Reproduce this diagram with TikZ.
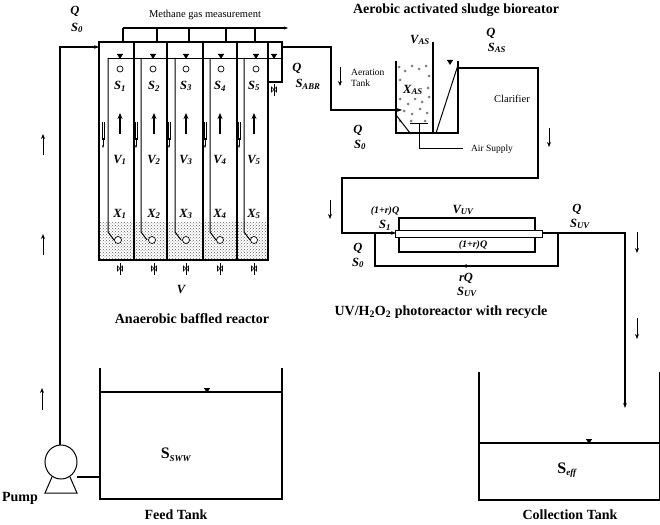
\documentclass[tikz,border=0pt]{standalone}
\usepackage{fontspec}
\setmainfont{Liberation Serif}
\usetikzlibrary{arrows.meta,patterns}
\begin{document}
\begin{tikzpicture}[x=1pt,y=-1pt,
  pipe/.style={line width=1.3pt},
  wall/.style={line width=1.6pt},
  flow/.style={line width=0.9pt,-{Stealth[length=5pt,width=4pt]}},
  lab/.style={font=\bfseries\itshape\fontsize{12.5}{13}\selectfont,inner sep=0pt},
  sm/.style={font=\fontsize{9.5}{11}\selectfont,inner sep=0pt},
  ttl/.style={font=\bfseries\fontsize{14}{16}\selectfont,inner sep=0pt},
  lvl/.pic={\fill (-3,-4)--(3,-4)--(0,1)--cycle; \draw[line width=0.8pt] (-3,-4)--(3,-4);},
  valve/.pic={\draw[line width=0.8pt] (0,0)--(0,12); \draw[line width=0.6pt] (-2.5,3)--(2.5,8)--(2.5,3)--(-2.5,8)--cycle;}]
\useasboundingbox (0,0) rectangle (660,524);
% ---------- ABR ----------
\fill[pattern=crosshatch dots,pattern color=gray!80!black] (99,222) rectangle (268,260);
\foreach \x in {118,152,186,220,254}{\draw[line width=0.7pt,fill=white] (\x,240) circle (3.5);}
\draw[wall] (99,42) rectangle (268,260);
\foreach \x in {134,167,203,237}{\draw[wall] (\x,42)--(\x,260);}
\foreach \x in {108,141,175,210,244}{\draw[line width=1pt] (\x,58)--(\x,232)--(\x+6,240);}
\draw[line width=0.9pt] (108,58)--(282,58);
\draw[wall] (268,42) rectangle (282,82);
\foreach \x in {120,153,186,221,256}{\pic at (\x,58) {lvl}; \draw[line width=0.7pt] (\x,69) circle (3);}
\pic at (274,58) {lvl};
\foreach \x in {103,136,169,205,239}{\draw[line width=0.6pt] (\x-1,122)--(\x-1,140) (\x+1,122)--(\x+1,140); \draw[line width=0.6pt,-{Stealth[length=3pt]}] (\x,138)--(\x,148);}
\foreach \x in {120,154,186,220,254}{\pic at (\x,263) {valve}; \draw[line width=1.3pt,-{Stealth[length=6pt,width=5pt]}] (\x,134)--(\x,113);}
\pic at (274,84) {valve};
\foreach \i/\x in {1/120,2/154,3/186,4/220,5/254}{
  \node[lab] at (\x,86) {S\textsubscript{\i}};
  \node[lab] at (\x,160) {V\textsubscript{\i}};
  \node[lab] at (\x,214) {X\textsubscript{\i}};}
\node[lab] at (181,289) {V};
\node[ttl] at (192,319) {Anaerobic baffled reactor};
% methane
\draw[pipe,-{Stealth[length=4pt]}] (123,28)--(288,28);
\foreach \x in {123,157,189,226,255}{\draw[pipe] (\x,28)--(\x,42);}
\node[sm,font=\fontsize{10.5}{12}\selectfont] at (205,15) {Methane gas measurement};
% feed line
\draw[pipe,-{Stealth[length=5pt]}] (60,445)--(60,47)--(99,47);
\node[lab] at (75,11) {Q};
\node[lab] at (77,28) {S\textsubscript{0}};
\foreach \y in {155,255}{\draw[flow] (43,\y)--(43,134+\y-155);}
\draw[flow] (42,410)--(42,388);
% pump & feed tank
\draw[line width=1pt] (61,462) ellipse (16 and 17);
\draw[line width=1pt] (52,477)--(45,493)--(77,493)--(70,477);
\draw[pipe] (77,477)--(100,477);
\node[ttl] at (20,498) {Pump};
\draw[wall] (100,368)--(100,499)--(282,499)--(282,368);
\draw[pipe] (100,392)--(282,392);
\pic at (207,392) {lvl};
\node[font=\bfseries\fontsize{16}{18}\selectfont] at (176,455) {S\textsubscript{\fontsize{9}{10}\selectfont\itshape SWW}};
\node[ttl] at (176,515) {Feed Tank};
% ---------- ABR -> AS ----------
\draw[pipe,-{Stealth[length=5pt]}] (282,47)--(331,47)--(331,110)--(402,110);
\node[lab] at (297,68) {Q};
\node[lab] at (308,84) {S\textsubscript{ABR}};
\node[lab] at (358,130) {Q};
\node[lab] at (360,145) {S\textsubscript{0}};
\draw[flow] (340,67)--(340,86);
\node[sm,align=left,anchor=west] at (351,78) {Aeration\\Tank};
% AS tank
\foreach \x/\y in {399/67,405/71,412/66,419/69,426/66,429/76,400/80,428/88,400/99,408/104,415/99,422/102,429/97,404/111,412/114,420/109,427/113,400/121,411/121,425/121}{\fill[gray] (\x,\y) circle (1.5);}
\draw[wall] (396,61)--(396,133)--(458,133)--(458,61);
\draw[wall] (433,42)--(433,133);
\draw[line width=1pt] (436,133)--(458,65);
\draw[line width=1pt] (396,115)--(410,133);
\draw[line width=1pt] (410,123)--(428,123);
\draw[line width=0.8pt] (419,123)--(419,148)--(463,148);
\node[sm] at (492,149) {Air Supply};
\node[sm,font=\fontsize{10.5}{12}\selectfont] at (512,99) {Clarifier};
\pic at (450,64) {lvl};
\node[lab] at (413,90) {X\textsubscript{AS}};
\node[lab] at (420,40) {V\textsubscript{AS}};
\node[lab] at (491,33) {Q};
\node[lab] at (497,48) {S\textsubscript{AS}};
\node[ttl] at (456,10) {Aerobic activated sludge bioreator};
% AS -> UV
\draw[pipe,-{Stealth[length=5pt]}] (458,68)--(538,68)--(538,178)--(342,178)--(342,233)--(396,233);
\draw[flow] (549,128)--(549,147);
\draw[flow] (330,200)--(330,219);
% UV
\draw[wall] (399,218) rectangle (535,252);
\draw[line width=1pt,fill=white] (395,230) rectangle (542,237);
\draw[pipe,-{Stealth[length=5pt]}] (542,233)--(558,233)--(558,266)--(462,266);
\draw[pipe] (465,266)--(375,266)--(375,233);
\draw[pipe,-{Stealth[length=5pt]}] (558,233)--(625,233)--(625,408);
\draw[flow] (637,232)--(637,253);
\draw[flow] (637,318)--(637,339);
\node[lab,font=\bfseries\itshape\fontsize{10}{11}\selectfont] at (385,211) {(1+r)Q};
\node[lab] at (385,225) {S\textsubscript{1}};
\node[lab] at (463,210) {V\textsubscript{UV}};
\node[lab,font=\bfseries\itshape\fontsize{10}{11}\selectfont] at (473,245) {(1+r)Q};
\node[lab] at (577,209) {Q};
\node[lab] at (580,224) {S\textsubscript{UV}};
\node[lab] at (358,248) {Q};
\node[lab] at (358,263) {S\textsubscript{0}};
\node[lab] at (466,278) {rQ};
\node[lab] at (467,292) {S\textsubscript{UV}};
\node[ttl] at (441,312) {UV/H\textsubscript{2}O\textsubscript{2} photoreactor with recycle};
% collection tank
\draw[wall] (479,372)--(479,500)--(660,500)--(660,372);
\draw[pipe] (479,443)--(660,443);
\pic at (589,443) {lvl};
\node[font=\bfseries\fontsize{16}{18}\selectfont] at (567,470) {S\textsubscript{\fontsize{9}{10}\selectfont\itshape eff}};
\node[ttl] at (570,515) {Collection Tank};
\end{tikzpicture}
\end{document}
